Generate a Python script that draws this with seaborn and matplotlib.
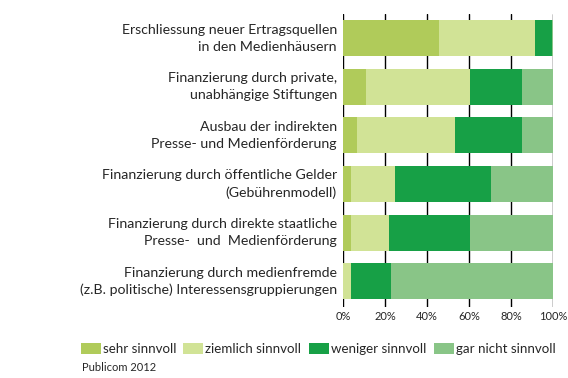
import numpy as np
import pandas as pd
import seaborn as sns
import matplotlib.pyplot as plt
from matplotlib.patches import Patch

# data (percent of respondents)
items = [
    "Erschliessung neuer Ertragsquellen\nin den Medienhäusern",
    "Finanzierung durch private,\nunabhängige Stiftungen",
    "Ausbau der indirekten\nPresse- und Medienförderung",
    "Finanzierung durch öffentliche Gelder\n(Gebührenmodell)",
    "Finanzierung durch direkte staatliche\nPresse-  und  Medienförderung",
    "Finanzierung durch medienfremde\n(z.B. politische) Interessensgruppierungen",
]
answers = ["sehr sinnvoll", "ziemlich sinnvoll", "weniger sinnvoll", "gar nicht sinnvoll"]
sehr = [45.6, 10.8, 6.5, 3.7, 3.7, 0.0]
ziemlich = [45.7, 49.5, 46.7, 20.9, 18.0, 3.7]
weniger = [8.1, 24.8, 31.9, 45.7, 38.6, 19.0]
gar_nicht = [0.6, 14.9, 14.9, 29.7, 39.7, 77.3]
colors = ["#b0cb5a", "#d1e396", "#17a046", "#89c587"]

df = pd.DataFrame({"item": items, answers[0]: sehr, answers[1]: ziemlich,
                   answers[2]: weniger, answers[3]: gar_nicht})
cum = df[answers].cumsum(axis=1)
cum["item"] = df["item"]

sns.set_style("white")
plt.rcParams["font.family"] = ["Lato", "DejaVu Sans"]

fig = plt.figure(figsize=(5.68, 3.78), dpi=100)
ax = fig.add_axes([0.604, 0.188, 0.370, 0.775])

# stacked bars: draw cumulative totals from the largest down
for ans, col in zip(answers[::-1], colors[::-1]):
    sns.barplot(data=cum, x=ans, y="item", color=col, width=0.74,
                saturation=1, linewidth=0, ax=ax, zorder=2)

ax.set_xlim(0, 100)
ax.set_ylim(5.53, -0.5)
ax.set_xticks(np.arange(0, 101, 20))
ax.set_xticklabels([f"{t}%" for t in range(0, 101, 20)], fontsize=8)
ax.set_yticks(range(len(items)))
ax.set_yticklabels([])
# category labels, each line right-aligned on its own
for i, lab in enumerate(items):
    lines = lab.split("\n")
    for k, line in enumerate(lines):
        dy = 6.2 - 12.4 * k
        ax.annotate(line, xy=(0, i), xycoords=ax.get_yaxis_transform(),
                    xytext=(-4.5, dy), textcoords="offset points",
                    ha="right", va="center", fontsize=10.2)
ax.set_xlabel("")
ax.set_ylabel("")
ax.grid(axis="x", color="black", linewidth=1)
ax.set_axisbelow(True)
ax.tick_params(axis="y", length=0)
ax.tick_params(axis="x", length=0, pad=3)
for s in ax.spines.values():
    s.set_visible(False)

handles = [Patch(facecolor=c, edgecolor="none", label=a) for a, c in zip(answers, colors)]
fig.legend(handles=handles, loc="center left", bbox_to_anchor=(0.142, 0.077),
           ncol=4, frameon=False, fontsize=9.6, handlelength=1.5, handleheight=0.9,
           handletextpad=0.15, columnspacing=0.55, borderaxespad=0, borderpad=0)

fig.text(0.145, 0.027, "Publicom 2012", fontsize=8, va="center")

fig.savefig("out.png", dpi=100)
